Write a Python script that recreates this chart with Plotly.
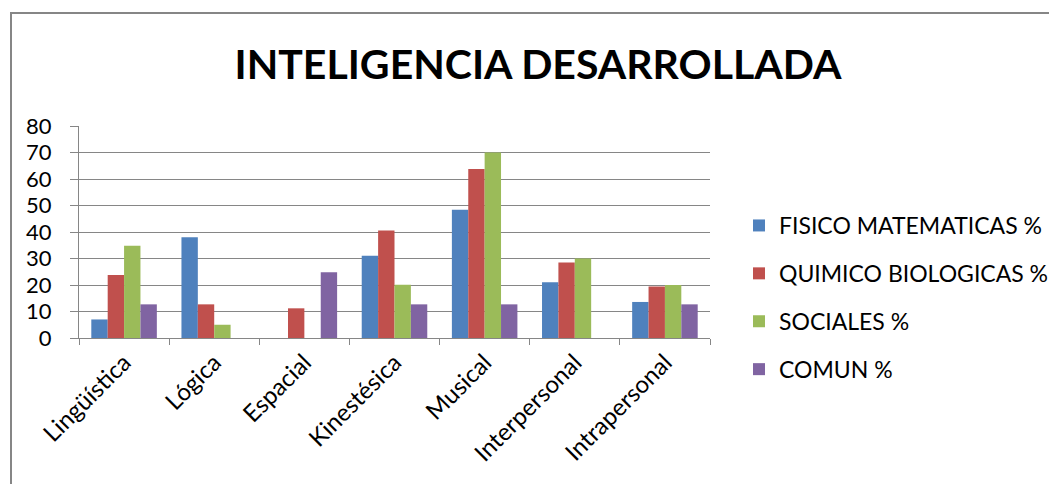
import plotly.graph_objects as go

categories = ["Lingüística", "Lógica", "Espacial", "Kinestésica", "Musical", "Interpersonal", "Intrapersonal"]
fisico = [7, 38, 0, 31, 48.4, 21, 13.6]
quimico = [23.8, 12.7, 11.2, 40.6, 63.8, 28.5, 19.4]
sociales = [34.8, 5, 0, 20.1, 70, 30, 20]
comun = [12.7, 0, 24.8, 12.7, 12.7, 0, 12.7]
series_names = ["FISICO MATEMATICAS %", "QUIMICO BIOLOGICAS %", "SOCIALES %", "COMUN %"]
series_values = [fisico, quimico, sociales, comun]
colors = ["#4F81BD", "#C0504D", "#9BBB59", "#8064A2"]
y_ticks = [0, 10, 20, 30, 40, 50, 60, 70, 80]

# page body has an 8px margin; work in reference-screen coordinates and shift
O = 8
W, H = 1057 - 2 * O, 492 - 2 * O
# plot area in screen coords: x 79..710, y 126..338
ml = 79 - O
mt = 126 - O
mr = W - (710 - O)
mb = H - (338 - O)
pw, ph = W - ml - mr, H - mt - mb

fig = go.Figure()
for name, vals, col in zip(series_names, series_values, colors):
    fig.add_trace(go.Bar(x=categories, y=vals, name=name, marker_color=col,
                         marker_line_width=0, legendgroup=name))

def sx(px):  # screen x -> paper
    return (px - O - ml) / pw

def sy(py):  # screen y -> paper
    return (H - mb - (py - O)) / ph

fig.update_layout(
    width=W, height=H,
    margin=dict(l=ml, r=mr, t=mt, b=mb, autoexpand=False),
    paper_bgcolor="white", plot_bgcolor="white",
    font=dict(family="Lato", color="#000000", size=19),
    title=dict(text="<b>INTELIGENCIA DESARROLLADA</b>", x=(538 - O) / W, xanchor="center",
               y=1 - (65 - O) / H, yanchor="middle",
               font=dict(family="Lato", size=41, color="#000000")),
    barmode="group", bargap=0.273, bargroupgap=0,
    legend=dict(x=sx(739), xanchor="left", y=sy(204), yanchor="top",
                font=dict(size=23), tracegroupgap=15, bgcolor="rgba(0,0,0,0)"),
    xaxis=dict(type="category", showline=True, linecolor="#868686", linewidth=1,
               ticks="outside", tickson="boundaries", ticklen=6, tickcolor="#868686",
               tickangle=-45, tickfont=dict(size=24), automargin=False),
    yaxis=dict(range=[0, 80], tickvals=y_ticks, showgrid=True, gridcolor="#868686",
               gridwidth=1, showline=True, linecolor="#868686", linewidth=1,
               ticks="outside", ticklen=8, tickcolor="#868686", tickfont=dict(size=22),
               ticklabelstandoff=14, zeroline=False, automargin=False),
    shapes=[dict(type="rect", xref="paper", yref="paper",
                 x0=sx(11), x1=sx(1057 + 30),
                 y0=sy(492 + 30), y1=sy(13),
                 line=dict(color="#868686", width=2), fillcolor="rgba(0,0,0,0)",
                 layer="below")],
)

fig.write_html("out.html")
